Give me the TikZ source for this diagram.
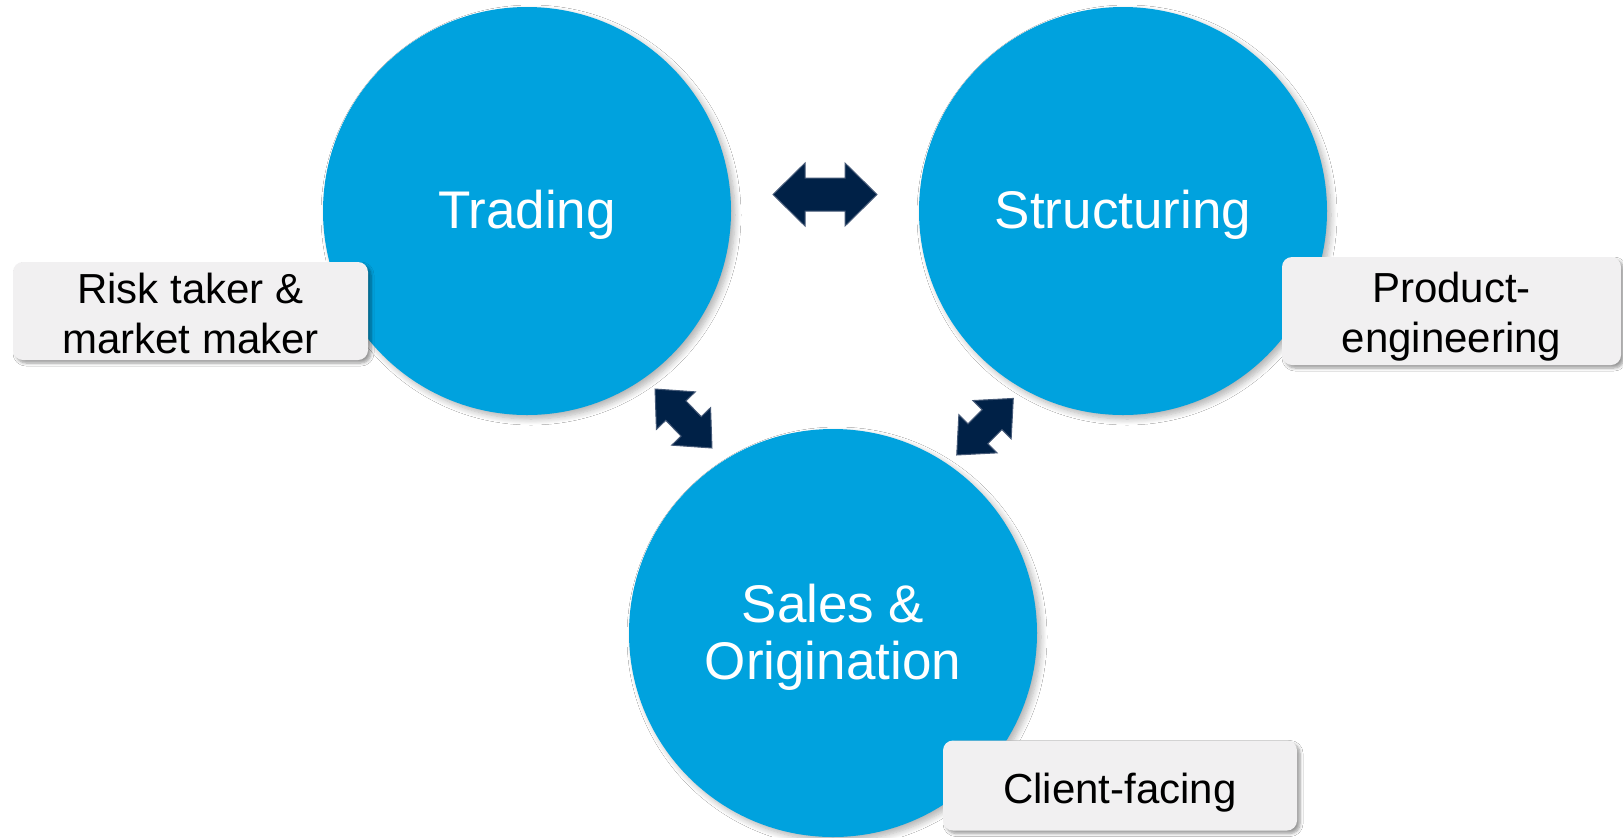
\documentclass[tikz,border=0pt]{standalone}
\usepackage{fontspec}
\setmainfont{Liberation Sans}
\usetikzlibrary{shadows.blur}
\definecolor{cblue}{RGB}{0,162,222}
\definecolor{navy}{RGB}{0,33,71}
\definecolor{navyedge}{RGB}{70,90,120}
\definecolor{boxgray}{RGB}{241,240,241}
\newcommand\blockarrow[7]{%
  \path[blk, shift={(#1,#2)}, rotate=#3]
    (-#4,0) -- (-#4+#5,#6) -- (-#4+#5,#7) -- (#4-#5,#7) -- (#4-#5,#6) -- (#4,0)
    -- (#4-#5,-#6) -- (#4-#5,-#7) -- (-#4+#5,-#7) -- (-#4+#5,-#6) -- cycle;}
\begin{document}
\begin{tikzpicture}[x=0.5pt,y=-0.5pt,
  circ/.style={circle, fill=cblue, minimum size=204pt, inner sep=0pt,
    blur shadow={shadow xshift=2pt, shadow yshift=-2pt, shadow blur radius=3pt, shadow blur steps=8, shadow opacity=30}},
  ctext/.style={inner sep=0pt, text=white, font=\fontsize{26.5}{28.5}\selectfont, align=center},
  lbl/.style={rectangle, rounded corners=5pt, fill=boxgray, inner sep=0pt,
    blur shadow={shadow xshift=1.5pt, shadow yshift=-1.5pt, shadow blur radius=1.5pt, shadow blur steps=6, shadow opacity=40}},
  ltext/.style={inner sep=0pt, text=black, font=\fontsize{21}{25}\selectfont, align=center},
  blk/.style={fill=navy, draw=navyedge, line width=0.5pt, line join=miter}]
\useasboundingbox (0,0) rectangle (1623,837);
\fill[white] (0,0) rectangle (1623,837);

\node[circ] (trading) at (527,211) {};
\node[circ] (struct) at (1123,211) {};
\node[circ] (sales) at (833,633) {};
\node[ctext] (tradingtxt) at ([yshift=-2pt]trading.center) {Trading};
\node[ctext] (structtxt) at ([yshift=-2pt]struct.center) {Structuring};
\node[ctext] (salestxt) at ([yshift=-2pt]sales.center) {Sales \&\\Origination};

\blockarrow{825}{194.5}{0}{52}{32}{31.5}{16.5}
\blockarrow{683.5}{418.5}{-46}{41}{30}{27}{14}
\blockarrow{985}{426.7}{45}{40}{30}{27}{14}

\node[lbl, minimum width=177.5pt, minimum height=49pt] (risk) at (190.5,311) {};
\node[lbl, minimum width=169.5pt, minimum height=54pt] (prod) at (1451.5,311) {};
\node[lbl, minimum width=177pt, minimum height=45pt] (client) at (1120,785.5) {};
\node[ltext] (risktxt) at ([yshift=-1pt]risk.center) {Risk taker \&\\market maker};
\node[ltext] (prodtxt) at ([yshift=-3pt]prod.center) {Product-\\engineering};
\node[ltext] (clienttxt) at ([yshift=-3.5pt]client.center) {Client-facing};
\end{tikzpicture}
\end{document}
